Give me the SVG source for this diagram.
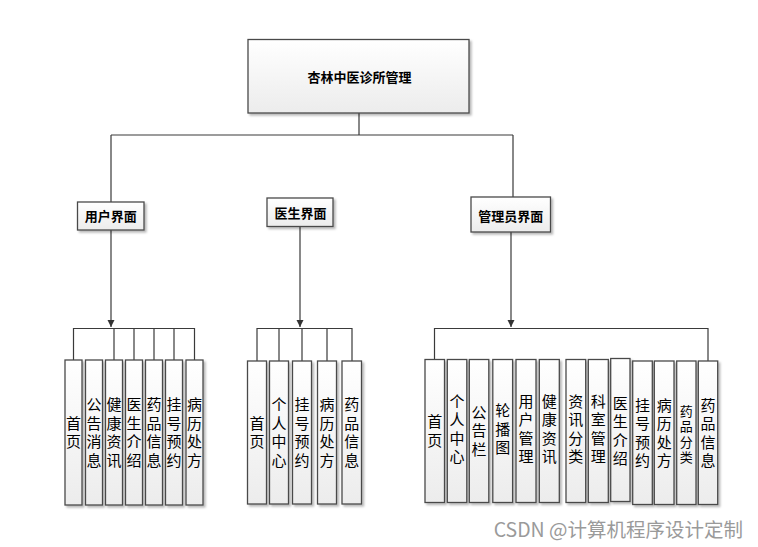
<svg xmlns="http://www.w3.org/2000/svg" width="758" height="547" viewBox="0 0 758 547">
<defs>
<linearGradient id="g" x1="0" y1="0" x2="0" y2="1">
<stop offset="0" stop-color="#ffffff"/>
<stop offset="1" stop-color="#ececec"/>
</linearGradient>
<filter id="sh" x="-20%" y="-20%" width="150%" height="150%">
<feDropShadow dx="2" dy="2" stdDeviation="0.8" flood-color="#000" flood-opacity="0.28"/>
</filter>
<marker id="arr" markerUnits="userSpaceOnUse" markerWidth="8" markerHeight="8" refX="7" refY="3.5" orient="auto">
<path d="M0,0 L7,3.5 L0,7 z" fill="#333"/>
</marker>
</defs>
<style>
.box{fill:url(#g);stroke:#4a4a4a;stroke-width:1.3;filter:url(#sh)}
.ln{fill:none;stroke:#3a3a3a;stroke-width:1.2}
.t{font-family:"Noto Sans CJK SC","Noto Sans",sans-serif;font-size:15px;fill:#000;text-anchor:middle;writing-mode:vertical-rl;text-orientation:upright;letter-spacing:3.5px}
.s{font-size:13px;letter-spacing:2.5px}
.h{font-family:"Noto Sans CJK SC","Noto Sans",sans-serif;font-size:13px;font-weight:bold;fill:#000;text-anchor:middle;dominant-baseline:central}
.wm{font-family:"Noto Sans CJK SC","Noto Sans",sans-serif;font-size:19.5px;fill:#9a9a9a;text-anchor:end}
</style>
<rect width="758" height="547" fill="#ffffff"/>

<g id="connectors">
<path class="ln" d="M359,113 V135 M111,135 H513 M111,135 V202 M513,135 V197"/>
<path class="ln" d="M111,230 V327" marker-end="url(#arr)"/>
<path class="ln" d="M300,227 V327" marker-end="url(#arr)"/>
<path class="ln" d="M511,232 V327" marker-end="url(#arr)"/>
<path class="ln" d="M73.5,360 V328.5 H194.5 V360 M114,328.5 V360 M134,328.5 V360 M154,328.5 V360 M174,328.5 V360"/>
<path class="ln" d="M257,361 V328.5 H352 V361 M279,328.5 V361 M302,328.5 V361 M327,328.5 V361"/>
<path class="ln" d="M434.5,359 V328.5 H708 V361"/>
</g>

<g id="root">
<rect class="box" x="248" y="39.5" width="221" height="73.5"/>
<text class="h" x="359.5" y="76.5">杏林中医诊所管理</text>
</g>

<g id="user">
<rect class="box" x="77.5" y="202" width="66.5" height="28"/>
<text class="h" x="110.7" y="215.8">用户界面</text>
</g>
<g id="doctor">
<rect class="box" x="267" y="198" width="66" height="28.5"/>
<text class="h" x="300.5" y="212.5">医生界面</text>
</g>
<g id="admin">
<rect class="box" x="471" y="197" width="79.5" height="35"/>
<text class="h" x="510.8" y="215">管理员界面</text>
</g>

<!-- user group -->
<g id="u1"><rect class="box" x="65" y="360" width="17" height="145"/><text class="t" x="73.5" y="434">首页</text></g>
<g id="u2"><rect class="box" x="85.5" y="360" width="17" height="145"/><text class="t" x="94" y="434">公告消息</text></g>
<g id="u3"><rect class="box" x="105.5" y="360" width="17" height="145"/><text class="t" x="114" y="434">健康资讯</text></g>
<g id="u4"><rect class="box" x="125.5" y="360" width="17" height="145"/><text class="t" x="134" y="434">医生介绍</text></g>
<g id="u5"><rect class="box" x="145.5" y="360" width="17" height="145"/><text class="t" x="154" y="434">药品信息</text></g>
<g id="u6"><rect class="box" x="165.5" y="360" width="17" height="145"/><text class="t" x="174" y="434">挂号预约</text></g>
<g id="u7"><rect class="box" x="186" y="360" width="17" height="145"/><text class="t" x="194.5" y="434">病历处方</text></g>

<!-- doctor group -->
<g id="d1"><rect class="box" x="247.5" y="361" width="19" height="143"/><text class="t" x="257" y="434">首页</text></g>
<g id="d2"><rect class="box" x="269.5" y="361" width="19" height="143"/><text class="t" x="279" y="434">个人中心</text></g>
<g id="d3"><rect class="box" x="292.5" y="361" width="19" height="143"/><text class="t" x="302" y="434">挂号预约</text></g>
<g id="d4"><rect class="box" x="317.5" y="361" width="19" height="143"/><text class="t" x="327" y="434">病历处方</text></g>
<g id="d5"><rect class="box" x="342" y="361" width="19.5" height="143"/><text class="t" x="351.7" y="434">药品信息</text></g>

<!-- admin group -->
<g id="a1"><rect class="box" x="425" y="359.5" width="19.5" height="143"/><text class="t" x="434.7" y="432.5">首页</text></g>
<g id="a2"><rect class="box" x="447.3" y="359.5" width="19.5" height="143"/><text class="t" x="457" y="430.5">个人中心</text></g>
<g id="a3"><rect class="box" x="469.3" y="359.5" width="19.5" height="143"/><text class="t" x="479" y="432.5">公告栏</text></g>
<g id="a4"><rect class="box" x="492.8" y="359.5" width="19.8" height="143"/><text class="t" x="502.7" y="431">轮播图</text></g>
<g id="a5"><rect class="box" x="516" y="359.5" width="20" height="143"/><text class="t" x="526" y="430.5">用户管理</text></g>
<g id="a6"><rect class="box" x="539.3" y="359.5" width="20" height="143"/><text class="t" x="549.3" y="430.5">健康资讯</text></g>
<g id="a7"><rect class="box" x="566" y="359.5" width="19.7" height="143"/><text class="t" x="575.8" y="430.5">资讯分类</text></g>
<g id="a8"><rect class="box" x="588.3" y="359.5" width="20" height="143"/><text class="t" x="598.3" y="430.5">科室管理</text></g>
<g id="a9"><rect class="box" x="610.7" y="358.5" width="19.3" height="143"/><text class="t" x="620.3" y="432.5">医生介绍</text></g>
<g id="a10"><rect class="box" x="632.7" y="361" width="19.6" height="143.5"/><text class="t" x="642.5" y="434.5">挂号预约</text></g>
<g id="a11"><rect class="box" x="654.3" y="361" width="19.7" height="143.5"/><text class="t" x="664.2" y="434.5">病历处方</text></g>
<g id="a12"><rect class="box" x="676.7" y="361" width="19.3" height="143.5"/><text class="t s" x="686.3" y="435.5">药品分类</text></g>
<g id="a13"><rect class="box" x="698.3" y="361" width="19.4" height="143.5"/><text class="t" x="708" y="434.5">药品信息</text></g>

<text class="wm" x="743" y="536.5">CSDN @计算机程序设计定制</text>
</svg>
